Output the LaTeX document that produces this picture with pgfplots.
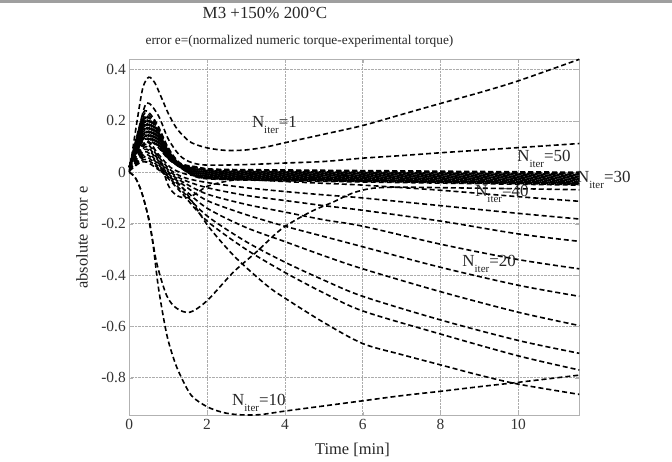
\documentclass[border=0pt]{standalone}
\usepackage{fontspec}
\setmainfont{Liberation Serif}
\usepackage{pgfplots}
\pgfplotsset{compat=1.18}
\pgfplotscreateplotcyclelist{blackdash}{black, line width=1.6bp, dash pattern=on 5bp off 3bp, smooth\\}
\newcommand{\Nit}[1]{N\raisebox{-6bp}{\fontsize{11}{11}\selectfont iter}=#1}
\begin{document}
\begin{tikzpicture}
\useasboundingbox (-129.3bp,-46.3bp) rectangle (542.7bp,415.7bp);
\draw[gray!75, line width=3bp] (-129.3bp,413.7bp) -- (542.7bp,413.7bp);
\begin{axis}[
 at={(0,0)}, anchor=south west,
 scale only axis, width=450bp, height=356.4bp,
 xmin=0, xmax=11.57, ymin=-0.948, ymax=0.44,
 xtick={0,2,4,6,8,10}, xticklabels={\textrm{0},\textrm{2},\textrm{4},\textrm{6},\textrm{8},\textrm{10}},
 ytick={-0.8,-0.6,-0.4,-0.2,0,0.2,0.4},
 yticklabels={\textrm{-0.8},\textrm{-0.6},\textrm{-0.4},\textrm{-0.2},\textrm{0},\textrm{0.2},\textrm{0.4}},
 tick label style={font=\fontsize{15.5}{16}\selectfont, text=black!80},
 grid=major, major grid style={densely dotted, gray!65, line width=0.6bp},
 axis line style={gray!60, line width=0.8bp},
 tick style={gray!60}, tick align=inside, major tick length=4bp,
 xlabel={Time [min]}, ylabel={absolute error e},
 every axis y label/.append style={at={(axis description cs:-0.105,0.5)}, anchor=center, font=\fontsize{16.5}{17}\selectfont, text=black!85},
 every axis x label/.append style={at={(axis description cs:0.496,-0.096)}, anchor=center, font=\fontsize{16.5}{17}\selectfont, text=black!85},
 clip=false,
 cycle list name=blackdash,
]
% N_iter = 1
\addplot coordinates {(0,0) (0.2,0.2) (0.35,0.33) (0.5,0.37) (0.65,0.35) (0.8,0.3) (1,0.23) (1.2,0.175) (1.4,0.14) (1.6,0.115) (2,0.095) (2.5,0.085) (3,0.087) (3.5,0.098) (4,0.115) (5,0.148) (6,0.182) (7,0.225) (8,0.268) (9,0.31) (10,0.356) (11.57,0.44)};
% N_iter = 50
\addplot coordinates {(0,0) (0.25,0.17) (0.45,0.27) (0.75,0.22) (1,0.13) (1.3,0.065) (1.6,0.038) (2,0.028) (3,0.03) (4,0.036) (5,0.042) (6,0.055) (7,0.065) (8,0.076) (9,0.086) (10,0.096) (11.57,0.112)};
% band curves
\addplot coordinates {(0,0.02) (0.2,0.144) (0.4,0.24) (0.7,0.192) (1,0.096) (1.3,0.036) (1.7,0.022) (2.2,0.012) (4,0.009) (7,0.0054) (11.57,0)};
\addplot coordinates {(0,0.02) (0.2,0.132) (0.4,0.22) (0.7,0.176) (1,0.088) (1.3,0.033) (1.7,0.018) (2.2,0.008) (4,0.0048) (7,0.0009) (11.57,-0.005)};
\addplot coordinates {(0,0.02) (0.2,0.126) (0.4,0.21) (0.7,0.168) (1,0.084) (1.3,0.0315) (1.7,0.014) (2.2,0.004) (4,0.0005) (7,-0.0037) (11.57,-0.01)};
\addplot coordinates {(0,0.02) (0.2,0.12) (0.4,0.2) (0.7,0.16) (1,0.08) (1.3,0.03) (1.7,0.01) (2.2,0) (4,-0.004) (7,-0.008) (11.57,-0.015)};
\addplot coordinates {(0,0.02) (0.2,0.114) (0.4,0.19) (0.7,0.152) (1,0.076) (1.3,0.0285) (1.7,0.006) (2.2,-0.004) (4,-0.008) (7,-0.013) (11.57,-0.02)};
\addplot coordinates {(0,0.02) (0.2,0.108) (0.4,0.18) (0.7,0.144) (1,0.072) (1.3,0.027) (1.7,0.002) (2.2,-0.008) (4,-0.012) (7,-0.017) (11.57,-0.025)};
\addplot coordinates {(0,0.02) (0.2,0.102) (0.4,0.17) (0.7,0.136) (1,0.068) (1.3,0.0255) (1.7,-0.002) (2.2,-0.012) (4,-0.017) (7,-0.022) (11.57,-0.03)};
\addplot coordinates {(0,0.02) (0.2,0.096) (0.4,0.16) (0.7,0.128) (1,0.064) (1.3,0.024) (1.7,-0.006) (2.2,-0.016) (4,-0.021) (7,-0.026) (11.57,-0.035)};
\addplot coordinates {(0,0.02) (0.2,0.09) (0.4,0.15) (0.7,0.12) (1,0.06) (1.3,0.0225) (1.7,-0.01) (2.2,-0.02) (4,-0.025) (7,-0.031) (11.57,-0.04)};
\addplot coordinates {(0,0.02) (0.2,0.084) (0.4,0.14) (0.7,0.112) (1,0.056) (1.3,0.021) (1.7,-0.014) (2.2,-0.024) (4,-0.029) (7,-0.036) (11.57,-0.045)};
\addplot coordinates {(0,0.02) (0.2,0.078) (0.4,0.13) (0.7,0.104) (1,0.052) (1.3,0.0195) (1.7,-0.017) (2.2,-0.027) (4,-0.033) (7,-0.04) (11.57,-0.05)};
% more band curves (dense band)
\addplot+[dash phase=4bp] coordinates {(0,0.02) (0.2,0.138) (0.4,0.23) (0.7,0.184) (1,0.092) (1.3,0.0345) (1.7,0.02) (2.2,0.01) (4,0.0069) (7,0.0031) (11.57,-0.0025)};
\addplot+[dash phase=4bp] coordinates {(0,0.02) (0.2,0.129) (0.4,0.215) (0.7,0.172) (1,0.086) (1.3,0.032) (1.7,0.016) (2.2,0.006) (4,0.0026) (7,-0.0014) (11.57,-0.0075)};
\addplot+[dash phase=4bp] coordinates {(0,0.02) (0.2,0.123) (0.4,0.205) (0.7,0.164) (1,0.082) (1.3,0.031) (1.7,0.012) (2.2,0.002) (4,-0.0016) (7,-0.006) (11.57,-0.0125)};
\addplot+[dash phase=4bp] coordinates {(0,0.02) (0.2,0.117) (0.4,0.195) (0.7,0.156) (1,0.078) (1.3,0.029) (1.7,0.008) (2.2,-0.002) (4,-0.0059) (7,-0.0105) (11.57,-0.0175)};
\addplot+[dash phase=4bp] coordinates {(0,0.02) (0.2,0.111) (0.4,0.185) (0.7,0.148) (1,0.074) (1.3,0.028) (1.7,0.004) (2.2,-0.006) (4,-0.0101) (7,-0.0151) (11.57,-0.0225)};
\addplot+[dash phase=4bp] coordinates {(0,0.02) (0.2,0.105) (0.4,0.175) (0.7,0.14) (1,0.07) (1.3,0.026) (1.7,0) (2.2,-0.01) (4,-0.0144) (7,-0.0196) (11.57,-0.0275)};
\addplot+[dash phase=4bp] coordinates {(0,0.02) (0.2,0.099) (0.4,0.165) (0.7,0.132) (1,0.066) (1.3,0.025) (1.7,-0.004) (2.2,-0.014) (4,-0.0186) (7,-0.0242) (11.57,-0.0325)};
\addplot+[dash phase=4bp] coordinates {(0,0.02) (0.2,0.093) (0.4,0.155) (0.7,0.124) (1,0.062) (1.3,0.023) (1.7,-0.008) (2.2,-0.018) (4,-0.0229) (7,-0.0287) (11.57,-0.0375)};
\addplot+[dash phase=4bp] coordinates {(0,0.02) (0.2,0.087) (0.4,0.145) (0.7,0.116) (1,0.058) (1.3,0.022) (1.7,-0.012) (2.2,-0.022) (4,-0.0271) (7,-0.0333) (11.57,-0.0425)};
\addplot+[dash phase=4bp] coordinates {(0,0.02) (0.2,0.081) (0.4,0.135) (0.7,0.108) (1,0.054) (1.3,0.02) (1.7,-0.0155) (2.2,-0.0255) (4,-0.031) (7,-0.0376) (11.57,-0.0475)};
% dip curve
\addplot coordinates {(0,0.02) (0.25,0.09) (0.5,0.12) (0.75,0.06) (1,-0.05) (1.2,-0.088) (1.45,-0.1) (1.7,-0.085) (2,-0.055) (2.5,-0.035) (3,-0.028) (5,-0.03) (8,-0.035) (11.57,-0.042)};
% diverging curves
\addplot coordinates {(0,0.02) (0.25,0.084) (0.45,0.12) (0.75,0.07) (1.05,0.02) (1.4,-0.005) (2,-0.02) (3,-0.028) (4,-0.036) (5,-0.043) (6,-0.05) (8,-0.07) (10,-0.095) (11.57,-0.113)};
\addplot coordinates {(0,0.02) (0.25,0.077) (0.45,0.11) (0.75,0.06) (1.05,0.01) (1.4,-0.02) (2,-0.04) (3,-0.06) (4,-0.075) (5,-0.088) (6,-0.1) (8,-0.13) (10,-0.16) (11.57,-0.182)};
\addplot coordinates {(0,0.015) (0.25,0.07) (0.45,0.1) (0.75,0.05) (1.05,0.002) (1.4,-0.03) (2,-0.06) (3,-0.09) (4,-0.11) (5,-0.13) (6,-0.148) (8,-0.19) (10,-0.24) (11.57,-0.269)};
\addplot coordinates {(0,0.015) (0.25,0.063) (0.45,0.09) (0.75,0.045) (1.05,-0.005) (1.4,-0.04) (2,-0.085) (3,-0.125) (4,-0.155) (5,-0.185) (6,-0.21) (8,-0.28) (10,-0.34) (11.57,-0.376)};
\addplot coordinates {(0,0.01) (0.25,0.056) (0.45,0.08) (0.75,0.035) (1.05,-0.012) (1.4,-0.05) (2,-0.11) (3,-0.165) (4,-0.21) (5,-0.25) (6,-0.29) (8,-0.37) (10,-0.44) (11.57,-0.483)};
\addplot coordinates {(0,0.01) (0.25,0.05) (0.45,0.07) (0.75,0.03) (1.05,-0.018) (1.4,-0.065) (2,-0.14) (3,-0.215) (4,-0.27) (5,-0.325) (6,-0.376) (8,-0.465) (10,-0.545) (11.57,-0.597)};
\addplot coordinates {(0,0.01) (0.25,0.045) (0.45,0.06) (0.75,0.022) (1.05,-0.025) (1.4,-0.08) (2,-0.17) (3,-0.27) (4,-0.35) (5,-0.42) (6,-0.483) (8,-0.575) (10,-0.655) (11.57,-0.705)};
\addplot coordinates {(0,0.005) (0.25,0.04) (0.45,0.05) (0.75,0.015) (1.05,-0.032) (1.4,-0.09) (2,-0.19) (3,-0.3) (4,-0.39) (5,-0.47) (6,-0.54) (8,-0.63) (10,-0.715) (11.57,-0.77)};
\addplot coordinates {(0,0.005) (0.25,0.035) (0.45,0.04) (0.75,0.01) (1.05,-0.02) (1.31,-0.05) (1.6,-0.11) (2.03,-0.21) (2.72,-0.33) (3.53,-0.44) (4,-0.49) (5,-0.585) (6,-0.667) (7,-0.71) (8,-0.75) (9,-0.79) (10,-0.825) (11.57,-0.865)};
% rising curve
\addplot coordinates {(0,0) (0.15,-0.02) (0.3,-0.07) (0.45,-0.15) (0.53,-0.2) (0.7,-0.35) (0.96,-0.48) (1.22,-0.53) (1.56,-0.545) (2,-0.5) (2.67,-0.39) (3.27,-0.31) (3.92,-0.22) (4.65,-0.155) (5.24,-0.116) (5.76,-0.08) (6.27,-0.062) (7,-0.058) (8,-0.06) (9,-0.062) (10,-0.064) (11.57,-0.068)};
% N_iter = 10
\addplot coordinates {(0,0) (0.15,-0.02) (0.3,-0.07) (0.45,-0.15) (0.6,-0.27) (0.75,-0.45) (0.96,-0.63) (1.15,-0.73) (1.31,-0.79) (1.6,-0.87) (2,-0.913) (2.4,-0.935) (2.8,-0.944) (3.35,-0.944) (4,-0.93) (5,-0.91) (6,-0.89) (7,-0.87) (8,-0.853) (9,-0.835) (10,-0.818) (11.57,-0.79)};
% labels
\begin{scope}[every node/.style={anchor=base west, inner sep=0pt, font=\fontsize{17}{17}\selectfont, text=black!85}]
\node at (axis cs:3.15,0.176) {\Nit{1}};
\node at (axis cs:9.97,0.043) {\Nit{50}};
\node at (axis cs:11.51,-0.038) {\Nit{30}};
\node at (axis cs:8.89,-0.096) {\Nit{40}};
\node at (axis cs:8.56,-0.368) {\Nit{20}};
\node at (axis cs:2.64,-0.907) {\Nit{10}};
\end{scope}
\end{axis}
\node[anchor=base, font=\fontsize{17}{17}\selectfont, text=black!85] at (135.7bp,397bp) {M3 +150\% 200°C};
\node[anchor=base, font=\fontsize{13.4}{14}\selectfont, text=black!85] at (170.2bp,370.7bp) {error e=(normalized numeric torque-experimental torque)};
\end{tikzpicture}
\end{document}
